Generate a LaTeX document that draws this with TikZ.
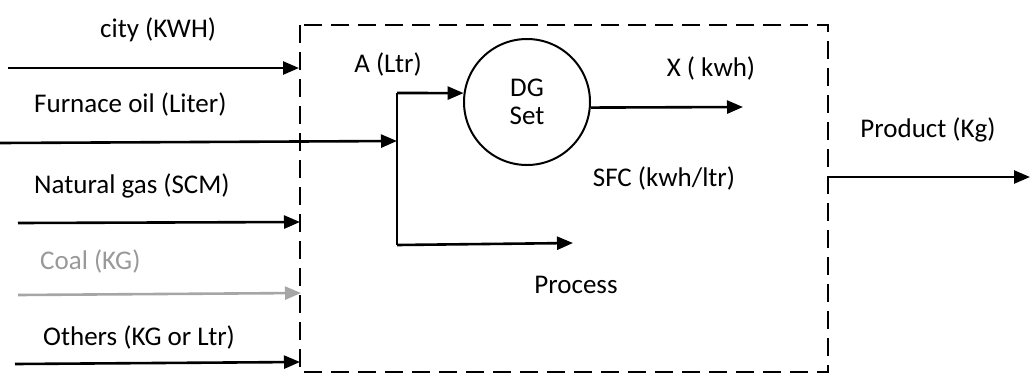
\documentclass[tikz,border=0pt]{standalone}
\usepackage{fontspec}
\setmainfont{Carlito}
\usetikzlibrary{arrows.meta}
\begin{document}
\begin{tikzpicture}[x=1pt,y=-1pt,
  lbl/.style={font=\fontsize{27}{30}\selectfont, inner sep=0pt},
  arr/.style={line width=2.6pt,-{Triangle[length=16pt,width=13pt]}},
  ln/.style={line width=2.6pt},
  boundary/.style={draw,line width=2.6pt,dash pattern=on 18pt off 9pt},
  faint/.style={text=black!40}]
\useasboundingbox (0,0) rectangle (1031,376);
% system boundary
\draw[boundary] (300,25) rectangle (828,372);
% DG set
\node[draw,circle,line width=2pt,minimum size=126pt,inner sep=0pt] (dg) at (527,102) {};
\node[lbl] (dgt) at (527,88) {DG};
\node[lbl] (dgs) at (527,116) {Set};
% input labels
\node[lbl,anchor=west] (le) at (100,30) {city (KWH)};
\node[lbl,anchor=west] (lf) at (34,104) {Furnace oil (Liter)};
\node[lbl,anchor=west] (ln) at (34,186) {Natural gas (SCM)};
\node[lbl,anchor=west,faint] (lc) at (40,261) {Coal (KG)};
\node[lbl,anchor=west] (lo) at (43,337) {Others (KG or Ltr)};
% inner labels
\node[lbl] (la) at (388,64) {A (Ltr)};
\node[lbl] (lx) at (711,68) {X ( kwh)};
\node[lbl] (ls) at (664,178) {SFC (kwh/ltr)};
\node[lbl] (lp) at (576,285) {Process};
\node[lbl] (lpr) at (928,130) {Product (Kg)};
% coordinates
\coordinate (e0) at (8,68);   \coordinate (e1) at (299,68);
\coordinate (f0) at (0,143);  \coordinate (jm) at (397,141);
\coordinate (n0) at (18,223); \coordinate (n1) at (300,222);
\coordinate (c0) at (18,295); \coordinate (c1) at (301,293);
\coordinate (o0) at (15,364); \coordinate (o1) at (300,362);
\coordinate (jt) at (397,93); \coordinate (jb) at (397,245);
\coordinate (pa) at (573,243);
\coordinate (xo) at (743,107);
\coordinate (p0) at (828,177); \coordinate (p1) at (1030,177);
% connectors
\draw[arr] (e0) -- (e1);
\draw[arr] (f0) -- (jm);
\draw[arr] (n0) -- (n1);
\draw[arr,draw=black!35,fill=black!35] (c0) -- (c1);
\draw[arr] (o0) -- (o1);
\draw[ln] (jt) -- (jb);
\draw[arr] (jt) -- (dg.172);
\draw[arr] (jb) -- (pa);
\draw[arr] (dg.-5) -- (xo);
\draw[arr] (p0) -- (p1);
\end{tikzpicture}
\end{document}
